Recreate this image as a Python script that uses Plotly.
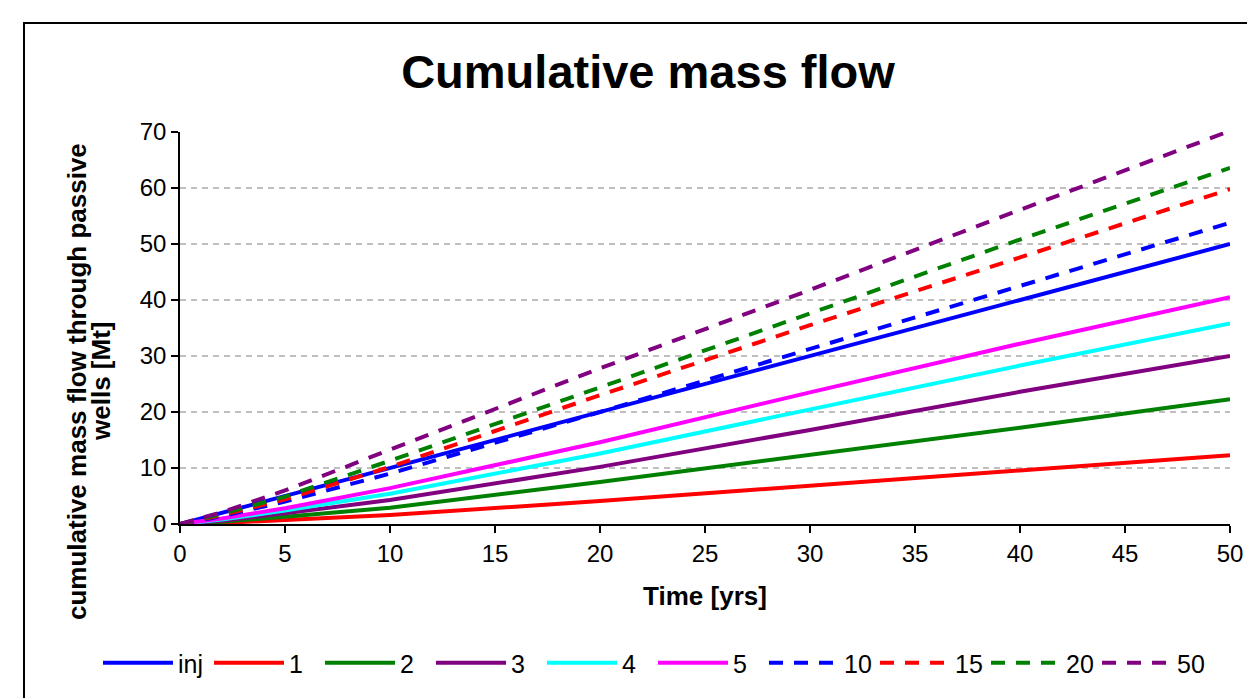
import plotly.graph_objects as go

years = [0, 2, 5, 10, 20, 30, 40, 50]
names = ["inj", "1", "2", "3", "4", "5", "10", "15", "20", "50"]
inj = [0, 2, 5, 10, 20, 30, 40, 50]
w1 = [0, 0.2, 0.7, 1.6, 4.1, 6.8, 9.5, 12.3]
w2 = [0, 0.4, 1.3, 2.9, 7.5, 12.3, 17.2, 22.3]
w3 = [0, 0.6, 1.9, 4.3, 10.2, 16.8, 23.6, 30.0]
w4 = [0, 0.8, 2.4, 5.4, 12.6, 20.4, 28.3, 35.8]
w5 = [0, 1.0, 2.8, 6.4, 14.6, 23.5, 32.2, 40.5]
w10 = [0, 1.4, 4.0, 9.0, 20.0, 31.2, 42.5, 53.8]
w15 = [0, 1.6, 4.4, 10.2, 23.0, 35.5, 47.6, 59.8]
w20 = [0, 1.8, 4.9, 11.3, 24.4, 37.6, 50.8, 63.6]
w50 = [0, 2.1, 6.0, 13.3, 27.8, 41.8, 56.1, 70.2]

series = [inj, w1, w2, w3, w4, w5, w10, w15, w20, w50]
colors = ["#0000FF", "#FF0000", "#008000", "#800080", "#00FFFF", "#FF00FF",
          "#0000FF", "#FF0000", "#008000", "#800080"]
dashes = ["solid"] * 6 + ["14px,11px"] * 4

FONT = "Arial, Liberation Sans, sans-serif"
W, H = 1247, 690   # page has an 8px body margin
OFF = 8
# plot area in page pixels
PX0, PX1, PY0, PY1 = 180, 1230, 132, 524


def px(x):
    return (x - PX0) / (PX1 - PX0)


def py(y):
    return (PY1 - y) / (PY1 - PY0)


fig = go.Figure()
for n, s, c, d in zip(names, series, colors, dashes):
    fig.add_trace(go.Scatter(x=years, y=s, name=n, mode="lines",
                             line=dict(color=c, width=4, dash=d)))

fig.update_layout(
    width=W, height=H,
    paper_bgcolor="white", plot_bgcolor="white",
    margin=dict(l=PX0 - OFF, r=W - (PX1 - OFF), t=PY0 - OFF, b=H - (PY1 - OFF)),
    font=dict(family=FONT, color="black", size=24),
    title=dict(text="<b>Cumulative mass flow</b>", x=(648 - OFF) / W, xref="container",
               xanchor="center", y=1 - (72 - OFF) / H, yref="container", yanchor="middle",
               font=dict(size=47, family=FONT, color="black")),
    xaxis=dict(range=[0, 50], dtick=5, showgrid=False, zeroline=False,
               showline=True, linecolor="black", linewidth=1.5,
               ticks="outside", ticklen=7, tickcolor="black", tickwidth=1.5,
               tickfont=dict(size=24),
               title=dict(text="<b>Time [yrs]</b>", font=dict(size=26), standoff=21)),
    yaxis=dict(range=[0, 70], dtick=10, showgrid=True, gridcolor="#BFBFBF",
               griddash="6px,5px", gridwidth=1.5, zeroline=False,
               showline=True, linecolor="black", linewidth=1.5,
               ticks="outside", ticklen=7, tickcolor="black", tickwidth=1.5,
               tickfont=dict(size=24)),
    legend=dict(orientation="h", x=px(98), xref="paper", xanchor="left",
                y=py(663), yref="paper", yanchor="middle",
                font=dict(size=25), itemwidth=70, tracegroupgap=0,
                entrywidth=26, entrywidthmode="pixels",
                bgcolor="rgba(0,0,0,0)"),
    annotations=[
        dict(text="<b>cumulative mass flow through passive</b>", textangle=-90,
             xref="paper", yref="paper", x=px(77), y=py(382),
             xanchor="center", yanchor="middle", showarrow=False,
             font=dict(size=26)),
        dict(text="<b>wells [Mt]</b>", textangle=-90,
             xref="paper", yref="paper", x=px(101), y=py(382),
             xanchor="center", yanchor="middle", showarrow=False,
             font=dict(size=26)),
    ],
    shapes=[dict(type="rect", xref="paper", yref="paper",
                 x0=px(24), x1=px(1275), y0=py(705), y1=py(23),
                 line=dict(color="black", width=2), layer="below")],
)
fig.write_html("out.html")
